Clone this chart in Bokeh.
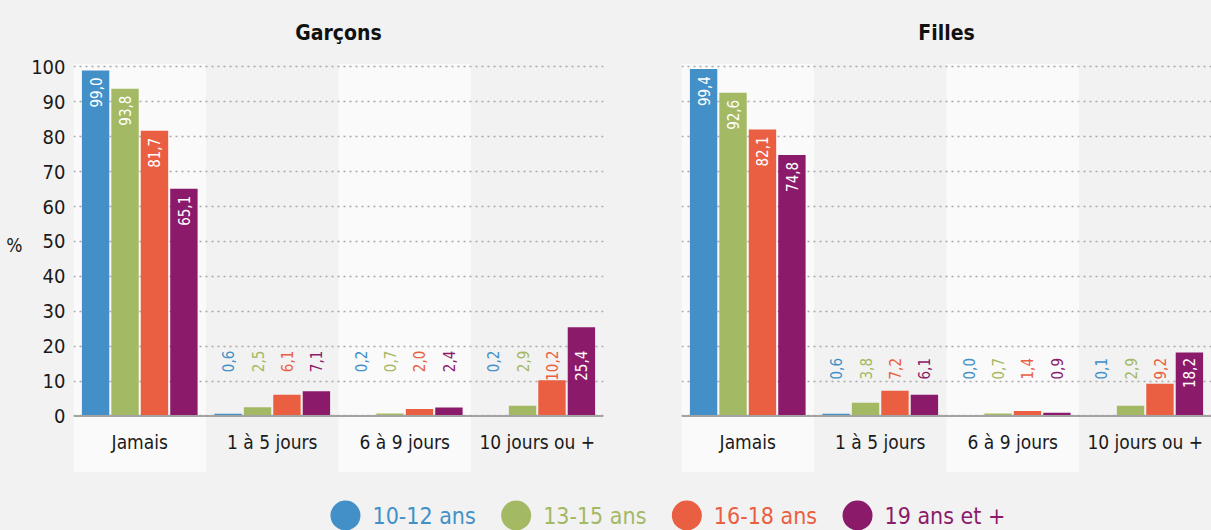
import math
from bokeh.plotting import figure
from bokeh.models import FactorRange, FixedTicker, Span, Range1d, LinearAxis
from bokeh.layouts import row, column
from bokeh.core.properties import value
from bokeh.embed import file_html
from bokeh.resources import INLINE

# ---------------- data ----------------
categories = ["Jamais", "1 à 5 jours", "6 à 9 jours", "10 jours ou +"]
ages = ["10-12 ans", "13-15 ans", "16-18 ans", "19 ans et +"]
colors = ["#4390c8", "#a3b964", "#ea5e41", "#8c1a6b"]

garcons_10_12 = [99.0, 0.6, 0.2, 0.2]
garcons_13_15 = [93.8, 2.5, 0.7, 2.9]
garcons_16_18 = [81.7, 6.1, 2.0, 10.2]
garcons_19_plus = [65.1, 7.1, 2.4, 25.4]

filles_10_12 = [99.4, 0.6, 0.0, 0.1]
filles_13_15 = [92.6, 3.8, 0.7, 2.9]
filles_16_18 = [82.1, 7.2, 1.4, 9.2]
filles_19_plus = [74.8, 6.1, 0.9, 18.2]

y_ticks = [0, 10, 20, 30, 40, 50, 60, 70, 80, 90, 100]
y_unit_label = "%"

# ---------------- style ----------------
FONT = "Liberation Sans Narrow, DejaVu Sans Condensed, Roboto, sans-serif"
BG = "#f2f2f2"
BAND = "#fafafa"
Y_START, Y_END = -16.2, 101
CAT_LABEL_Y = -7.4
UNIT_LABEL_Y = 49


def fmt(v):
    return f"{v:.1f}".replace(".", ",")


def make_panel(title, series, label_top, show_y, width, border_left, border_right):
    xr = FactorRange(*[(c, a) for c in categories for a in ages],
                     factor_padding=0.0, group_padding=0.5,
                     range_padding=0.25, range_padding_units="absolute")
    p = figure(x_range=xr, y_range=Range1d(Y_START, Y_END), width=width, height=480,
               output_backend="svg", toolbar_location=None,
               min_border_left=border_left, min_border_right=border_right,
               min_border_top=63, min_border_bottom=8,
               background_fill_color=BG, border_fill_color=BG)
    p.outline_line_color = None
    p.title.text = title
    p.title.align = "center"
    p.title.text_font = FONT
    p.title.text_font_style = "bold"
    p.title.text_font_size = "21px"
    p.title.text_color = "#111111"
    p.title.standoff = 37

    # alternating bands
    p.vbar(x=[categories[0], categories[2]], top=Y_END, bottom=Y_START, width=4.5,
           fill_color=BAND, line_color=None, level="image")

    # bars
    for age, vals, col in zip(ages, series, colors):
        xs = [(c, age) for c in categories]
        p.vbar(x=xs, top=vals, width=0.93, fill_color=col, line_color=None)

        ly, lc = [], []
        for v in vals:
            if v >= 40:
                ly.append(v - 2.0)
                lc.append("white")
            elif v >= label_top - 2:
                ly.append(label_top)
                lc.append("white")
            else:
                ly.append(label_top)
                lc.append(col)
        p.text(x=xs, y=ly, text=[fmt(v) for v in vals], text_color=lc,
               angle=math.pi / 2, text_align="right", text_baseline="middle",
               text_font=value(FONT), text_font_size="15px")

    # category labels
    p.text(x=categories, y=[CAT_LABEL_Y] * len(categories), text=categories,
           text_align="center", text_baseline="middle", text_color="#1a1a1a",
           text_font=value(FONT), text_font_size="19px")

    p.xaxis.visible = False
    p.xgrid.grid_line_color = None
    p.ygrid.ticker = FixedTicker(ticks=y_ticks)
    p.ygrid.grid_line_color = "#a8a8a8"
    p.ygrid.grid_line_dash = "2 4"
    p.ygrid.grid_line_width = 1.5

    p.add_layout(Span(location=0, dimension="width", line_color="#a3a3a3", line_width=2))

    if show_y:
        ax = p.yaxis[0]
        ax.ticker = FixedTicker(ticks=y_ticks)
        ax.axis_line_color = None
        ax.major_tick_line_color = None
        ax.minor_tick_line_color = None
        ax.major_tick_out = 0
        ax.major_tick_in = 0
        ax.minor_tick_out = 0
        ax.major_label_standoff = 8
        ax.major_label_text_font = FONT
        ax.major_label_text_font_size = "20px"
        ax.major_label_text_color = "#1a1a1a"
        unit_ax = LinearAxis(ticker=FixedTicker(ticks=[UNIT_LABEL_Y]),
                             major_label_overrides={UNIT_LABEL_Y: y_unit_label},
                             axis_line_color=None, major_tick_line_color=None,
                             minor_tick_line_color=None, major_tick_out=0,
                             major_tick_in=0, minor_tick_out=0,
                             major_label_standoff=6,
                             major_label_text_font=FONT,
                             major_label_text_font_size="19px",
                             major_label_text_color="#1a1a1a")
        p.add_layout(unit_ax, "left")
    else:
        p.yaxis.visible = False
    return p


p1 = make_panel("Garçons", [garcons_10_12, garcons_13_15, garcons_16_18, garcons_19_plus],
                18.7, True, 607, 73, 4)
p2 = make_panel("Filles", [filles_10_12, filles_13_15, filles_16_18, filles_19_plus],
                16.6, False, 604, 74, 0)

# legend strip
leg = figure(x_range=FactorRange(*ages, range_padding=1.521, range_padding_units="absolute"),
             y_range=Range1d(0, 1), width=1211, height=50,
             output_backend="svg", toolbar_location=None,
             min_border_left=0, min_border_right=9, min_border_top=0, min_border_bottom=0,
             background_fill_color=BG, border_fill_color=BG)
leg.outline_line_color = None
leg.axis.visible = False
leg.grid.grid_line_color = None
leg.scatter(x=ages, y=[0.3] * 4, size=30, fill_color=colors, line_color=None)
leg.text(x=ages, y=[0.3] * 4, text=ages, text_color=colors, x_offset=27,
         text_align="left", text_baseline="middle",
         text_font=value(FONT), text_font_size="23px")

layout = column(row(p1, p2), leg, styles={"background-color": BG})
html = file_html(layout, INLINE)
html = html.replace("<body>", f'<body style="background-color:{BG};">')
open("out.html", "w").write(html)
